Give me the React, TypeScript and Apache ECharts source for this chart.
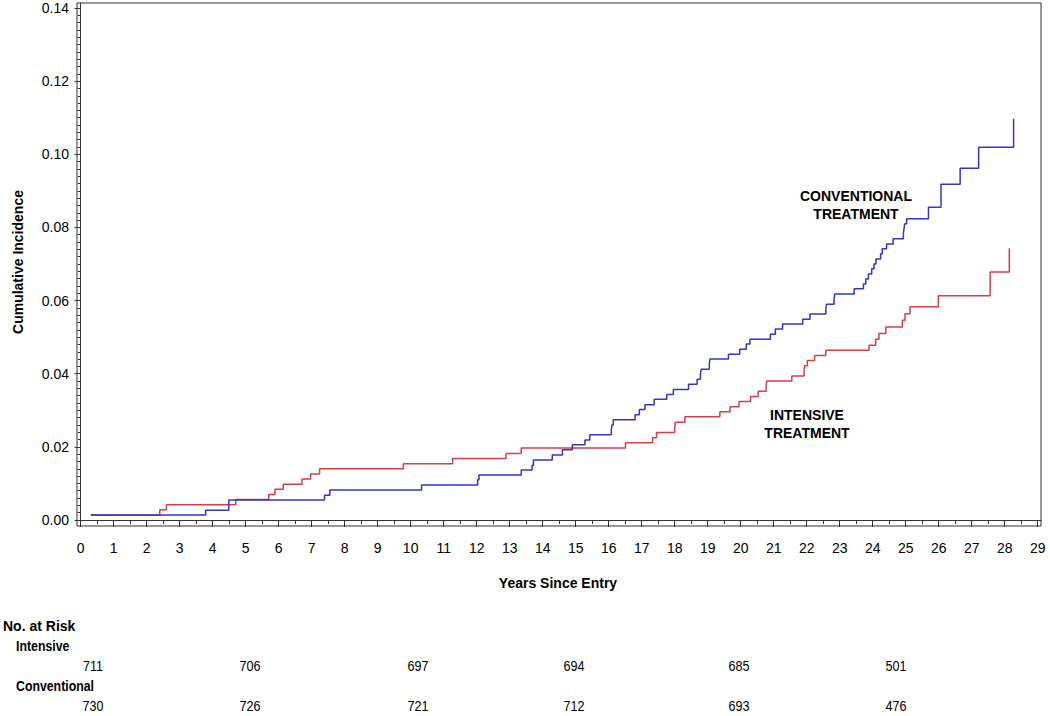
import React, { useEffect, useRef } from "react";
import * as echarts from "echarts";

// Cumulative incidence step curves (years since entry, cumulative incidence)
const conventionalYears = [0.31, 3.79, 4.49, 7.39, 7.55, 10.33, 12.03, 12.07, 13.35, 13.68, 13.72, 14.29, 14.6, 14.9, 15.28, 15.43, 16.08, 16.1, 16.14, 16.8, 16.93, 17.1, 17.38, 17.76, 17.96, 18.42, 18.68, 18.78, 18.8, 19.05, 19.07, 19.63, 19.97, 20.17, 20.28, 20.9, 21.05, 21.27, 21.88, 22.1, 22.58, 22.6, 22.83, 22.85, 23.44, 23.72, 23.79, 23.87, 23.97, 24.04, 24.1, 24.24, 24.29, 24.42, 24.62, 24.93, 24.95, 24.97, 25.03, 25.69, 26.07, 26.65, 27.21, 28.27];
const conventionalIncidence = [0.0014, 0.0027, 0.0055, 0.0068, 0.0082, 0.0096, 0.011, 0.0123, 0.0137, 0.015, 0.0164, 0.0178, 0.0192, 0.0206, 0.0219, 0.0233, 0.0247, 0.026, 0.0274, 0.0288, 0.0302, 0.0315, 0.033, 0.0343, 0.0357, 0.0371, 0.0385, 0.0398, 0.0412, 0.0426, 0.044, 0.0453, 0.0467, 0.0481, 0.0494, 0.0508, 0.0522, 0.0536, 0.0549, 0.0563, 0.0577, 0.059, 0.0604, 0.0618, 0.0632, 0.0645, 0.0659, 0.0673, 0.0687, 0.07, 0.0714, 0.0728, 0.0742, 0.0755, 0.0769, 0.0783, 0.0797, 0.081, 0.0824, 0.0855, 0.0918, 0.0962, 0.1019, 0.1097];

const intensiveYears = [0.31, 2.4, 2.6, 4.7, 5.7, 5.89, 6.14, 6.71, 6.97, 7.24, 9.78, 11.27, 12.89, 13.35, 16.51, 17.33, 17.45, 18.0, 18.02, 18.31, 19.37, 19.68, 19.95, 20.3, 20.53, 20.77, 20.79, 21.55, 21.92, 21.94, 22.02, 22.24, 22.58, 23.89, 24.09, 24.19, 24.4, 24.9, 24.98, 25.13, 25.99, 27.56, 28.14];
const intensiveIncidence = [0.0014, 0.0028, 0.0042, 0.0056, 0.007, 0.0084, 0.0098, 0.0112, 0.0126, 0.014, 0.0154, 0.0168, 0.0182, 0.0197, 0.0211, 0.0225, 0.0239, 0.0253, 0.0267, 0.0282, 0.0296, 0.031, 0.0324, 0.0338, 0.0352, 0.0366, 0.038, 0.0394, 0.0408, 0.0422, 0.0436, 0.045, 0.0464, 0.0478, 0.0494, 0.051, 0.0528, 0.0546, 0.0564, 0.0583, 0.0613, 0.0678, 0.0743];

// Axis ticks
const xTickValues = [0, 1, 2, 3, 4, 5, 6, 7, 8, 9, 10, 11, 12, 13, 14, 15, 16, 17, 18, 19, 20, 21, 22, 23, 24, 25, 26, 27, 28, 29];
const yTickValues = [0, 0.02, 0.04, 0.06, 0.08, 0.1, 0.12, 0.14];

// Number at risk table
const intensiveAtRisk = ["711", "706", "697", "694", "685", "501"];
const conventionalAtRisk = ["730", "726", "721", "712", "693", "476"];

// Layout (pixels)
const riskColumnX = [93, 250, 418, 574, 739, 896];
const FONT = "'Liberation Sans', Arial, Helvetica, sans-serif";
const BLUE = "#3434c8";
const RED = "#d63e48";

export default function App() {
  const ref = useRef<HTMLDivElement>(null);

  useEffect(() => {
    if (!ref.current) return;
    const chart = echarts.init(ref.current, undefined, { renderer: "svg" });

    const xMin = -0.11;
    const xMax = 29.1;
    const yMin = -0.00164;
    const yMax = 0.14137;

    const xMinor: number[] = [];
    for (let i = 0; i < 29; i++) xMinor.push(i + 0.5);
    const yMinor: number[] = [];
    for (let i = 0; i <= 70; i++) {
      if (i % 10 !== 0) yMinor.push(Math.round(i * 0.002 * 10000) / 10000);
    }

    const tableText = (text: string, x: number, y: number, align: string, bold: boolean, sx: number) => ({
      type: "text",
      x,
      y,
      scaleX: sx,
      style: {
        text,
        fill: "#000",
        font: `${bold ? "bold " : ""}14px ${FONT}`,
        textAlign: align,
        textVerticalAlign: "middle",
      },
    });

    const graphics: any[] = [
      {
        type: "text",
        x: 18,
        y: 262,
        rotation: Math.PI / 2,
        style: {
          text: "Cumulative Incidence",
          fill: "#000",
          font: `bold 14px ${FONT}`,
          textAlign: "center",
          textVerticalAlign: "middle",
        },
      },
      {
        type: "text",
        x: 558,
        y: 583,
        style: {
          text: "Years Since Entry",
          fill: "#000",
          font: `bold 14px ${FONT}`,
          textAlign: "center",
          textVerticalAlign: "middle",
        },
      },
      {
        type: "text",
        x: 856,
        y: 205,
        style: {
          text: "CONVENTIONAL\nTREATMENT",
          fill: "#000",
          font: `bold 14px ${FONT}`,
          textAlign: "center",
          textVerticalAlign: "middle",
          lineHeight: 18,
        },
      },
      {
        type: "text",
        x: 807,
        y: 424,
        style: {
          text: "INTENSIVE\nTREATMENT",
          fill: "#000",
          font: `bold 14px ${FONT}`,
          textAlign: "center",
          textVerticalAlign: "middle",
          lineHeight: 18,
        },
      },
      tableText("No. at Risk", 3, 626, "left", true, 1),
      tableText("Intensive", 16, 646, "left", true, 0.88),
      tableText("Conventional", 16, 686, "left", true, 0.88),
    ];
    intensiveAtRisk.forEach((n, i) => graphics.push(tableText(n, riskColumnX[i], 666, "center", false, 0.9)));
    conventionalAtRisk.forEach((n, i) => graphics.push(tableText(n, riskColumnX[i], 706, "center", false, 0.9)));

    chart.setOption({
      animation: false,
      backgroundColor: "#fff",
      grid: {
        left: 77,
        right: 9,
        top: 3,
        bottom: 190,
        show: true,
        borderColor: "#333",
        borderWidth: 1,
      },
      xAxis: [
        {
          type: "value",
          min: xMin,
          max: xMax,
          position: "bottom",
          axisLine: { show: true, lineStyle: { color: "#333", width: 1 } },
          axisTick: { show: true, length: 7, customValues: xTickValues, lineStyle: { color: "#333" } },
          axisLabel: {
            show: true,
            customValues: xTickValues,
            margin: 15,
            color: "#000",
            fontSize: 14,
            fontFamily: FONT,
            formatter: (v: number) => String(Math.round(v)),
          },
          splitLine: { show: false },
        },
        {
          type: "value",
          min: xMin,
          max: xMax,
          position: "bottom",
          axisLine: { show: false },
          axisTick: { show: true, length: 4, customValues: xMinor, lineStyle: { color: "#333" } },
          axisLabel: { show: false },
          splitLine: { show: false },
        },
      ],
      yAxis: [
        {
          type: "value",
          min: yMin,
          max: yMax,
          position: "left",
          axisLine: { show: true, lineStyle: { color: "#333", width: 1 } },
          axisTick: { show: true, length: 6, customValues: yTickValues, lineStyle: { color: "#333" } },
          axisLabel: {
            show: true,
            customValues: yTickValues,
            margin: 8,
            color: "#000",
            fontSize: 14,
            fontFamily: FONT,
            formatter: (v: number) => v.toFixed(2),
          },
          splitLine: { show: false },
        },
        {
          type: "value",
          min: yMin,
          max: yMax,
          position: "left",
          axisLine: { show: false },
          axisTick: { show: true, length: 3, customValues: yMinor, lineStyle: { color: "#333" } },
          axisLabel: { show: false },
          splitLine: { show: false },
        },
      ],
      series: [
        {
          name: "Intensive",
          type: "line",
          step: "end",
          xAxisIndex: 0,
          yAxisIndex: 0,
          showSymbol: false,
          symbol: "none",
          data: intensiveYears.map((t, i) => [t, intensiveIncidence[i]]),
          lineStyle: { color: RED, width: 1.5 },
          z: 2,
        },
        {
          name: "Conventional",
          type: "line",
          step: "end",
          xAxisIndex: 0,
          yAxisIndex: 0,
          showSymbol: false,
          symbol: "none",
          data: conventionalYears.map((t, i) => [t, conventionalIncidence[i]]),
          lineStyle: { color: BLUE, width: 1.5 },
          z: 3,
        },
      ],
      graphic: graphics,
    });

    return () => chart.dispose();
  }, []);

  return (
    <div
      ref={ref}
      style={{ position: "fixed", left: 0, top: 0, width: 1050, height: 716, background: "#fff" }}
    />
  );
}
